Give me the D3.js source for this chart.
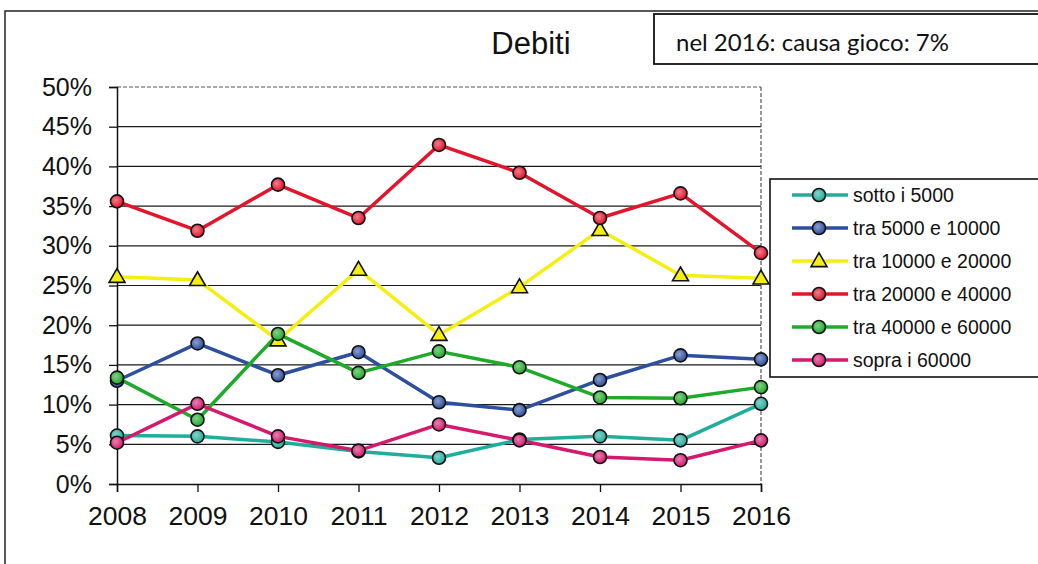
<!DOCTYPE html>
<html>
<head>
<meta charset="utf-8">
<script src="https://cdn.jsdelivr.net/npm/d3@7"></script>
<style>
  html,body{margin:0;padding:0;background:#fff;overflow:hidden;}
  svg{display:block;font-family:"Liberation Sans",Arial,sans-serif;}
</style>
</head>
<body>
<div id="chart"></div>
<script>
// data ---------------------------------------------------------------
var years=['2008','2009','2010','2011','2012','2013','2014','2015','2016'];
var yTicks=[0,5,10,15,20,25,30,35,40,45,50];
var seriesNames=['sotto i 5000','tra 5000 e 10000','tra 10000 e 20000',
                 'tra 20000 e 40000','tra 40000 e 60000','sopra i 60000'];
var sotto5000=[6.1,6.0,5.3,4.1,3.3,5.6,6.0,5.5,10.1];
var tra5000e10000=[13.0,17.7,13.7,16.6,10.3,9.3,13.1,16.2,15.7];
var tra10000e20000=[26.1,25.7,18.1,27.0,18.8,24.8,32.0,26.3,25.9];
var tra20000e40000=[35.6,31.9,37.7,33.5,42.7,39.2,33.5,36.6,29.1];
var tra40000e60000=[13.4,8.1,18.9,14.0,16.7,14.7,10.9,10.8,12.2];
var sopra60000=[5.2,10.1,6.0,4.2,7.5,5.5,3.4,3.0,5.5];
var title='Debiti';
var note='nel 2016: causa gioco: 7%';

var allValues=[sotto5000,tra5000e10000,tra10000e20000,tra20000e40000,tra40000e60000,sopra60000];
var colors=['#1fae9c','#2d4f9e','#f4ef10','#e3142b','#1faa2a','#d4196f'];
var shapes=['circle','circle','triangle','circle','circle','circle'];

var series=seriesNames.map(function(n,i){
    return {name:n,color:colors[i],shape:shapes[i],
        values:allValues[i].map(function(v,j){return {year:years[j],value:v};})};
});

//----------------------------------------------------------------
var width=1038,height=564;
var svg=d3.select('#chart').append('svg')
    .attr('width',width)
    .attr('height',height);

// glossy marker fills
var defs=svg.append('defs');
series.forEach(function(s,i){
    var g=defs.append('radialGradient')
        .attr('id','grad'+i)
        .attr('cx','40%').attr('cy','40%').attr('r','60%');
    g.append('stop').attr('offset','0%').attr('stop-color',d3.interpolateRgb(s.color,'#fff')(0.45));
    g.append('stop').attr('offset','100%').attr('stop-color',s.color);
});

// outer frame
svg.append('rect')
    .attr('x',5).attr('y',11)
    .attr('width',width+20).attr('height',height+20)
    .style('fill','none').style('stroke','#222').style('stroke-width',1.5);

var xScale=d3.scalePoint()
    .domain(years)
    .range([117,761]);

var yScale=d3.scaleLinear()
    .domain([0,50])
    .range([484,87]);

// grid ---------------------------------------------------------------
svg.append('g').selectAll('line').data(yTicks.filter(function(d){return d>0;}))
    .enter().append('line')
    .attr('x1',xScale.range()[0])
    .attr('x2',xScale.range()[1])
    .attr('y1',function(d){return yScale(d);})
    .attr('y2',function(d){return yScale(d);})
    .style('stroke',function(d){return d===50?'#555':'#1a1a1a';})
    .style('stroke-dasharray',function(d){return d===50?'4,2':null;})
    .style('stroke-width',1.2);

// right border of plot area
svg.append('line')
    .attr('x1',xScale.range()[1]).attr('x2',xScale.range()[1])
    .attr('y1',yScale(50)).attr('y2',yScale(0))
    .style('stroke','#555').style('stroke-dasharray','4,2').style('stroke-width',1.2);

// axes ---------------------------------------------------------------
var yAxis=d3.axisLeft(yScale)
    .tickValues(yTicks)
    .tickSize(8)
    .tickPadding(17)
    .tickFormat(function(d){return d+'%';});

var gy=svg.append('g')
    .attr('transform','translate('+xScale.range()[0]+',0)')
    .call(yAxis);
gy.select('.domain').style('stroke','#111').style('stroke-width',1.5);
gy.selectAll('.tick line').style('stroke','#111').style('stroke-width',1.3);
gy.selectAll('.tick text')
    .style('font-size','25px')
    .style('fill','#111')
    .style('font-family','"Liberation Sans",Arial,sans-serif');

var xAxis=d3.axisBottom(xScale)
    .tickSize(8)
    .tickPadding(14);

var gx=svg.append('g')
    .attr('transform','translate(0,'+yScale(0)+')')
    .call(xAxis);
gx.select('.domain').style('stroke','#111').style('stroke-width',1.5);
gx.selectAll('.tick line').style('stroke','#111').style('stroke-width',1.3);
gx.selectAll('.tick text')
    .style('font-size','26.5px')
    .style('fill','#111')
    .style('font-family','"Liberation Sans",Arial,sans-serif');

// lines --------------------------------------------------------------
var line=d3.line()
    .x(function(d){return xScale(d.year);})
    .y(function(d){return yScale(d.value);});

svg.append('g').selectAll('path').data(series)
    .enter().append('path')
    .attr('d',function(d){return line(d.values);})
    .style('fill','none')
    .style('stroke',function(d){return d.color;})
    .style('stroke-width',3.5)
    .style('stroke-linejoin','round');

// markers ------------------------------------------------------------
var triangle=d3.symbol().type(d3.symbolTriangle).size(110);

function drawMarker(sel,s,i){
    if(s.shape==='triangle'){
        sel.append('path')
            .attr('d',triangle)
            .attr('transform','translate(0,1)')
            .style('fill',s.color)
            .style('stroke','#111')
            .style('stroke-width',1.6);
    } else {
        sel.append('circle')
            .attr('r',6.5)
            .style('fill','url(#grad'+i+')')
            .style('stroke','#111')
            .style('stroke-width',1.6);
    }
}

series.forEach(function(s,i){
    svg.append('g').selectAll('g').data(s.values)
        .enter().append('g')
        .attr('transform',function(d){
            return 'translate('+xScale(d.year)+','+yScale(d.value)+')';
        })
        .each(function(){drawMarker(d3.select(this),s,i);});
});

// title and note -----------------------------------------------------
svg.append('text')
    .attr('x',531).attr('y',54)
    .attr('text-anchor','middle')
    .style('font-size','31px')
    .style('fill','#111')
    .text(title);

svg.append('rect')
    .attr('x',654).attr('y',14)
    .attr('width',420).attr('height',50)
    .style('fill','#fff').style('stroke','#111').style('stroke-width',1.8);

svg.append('text')
    .attr('x',676).attr('y',51)
    .style('font-family','Lato,"Open Sans",sans-serif')
    .style('font-size','24px')
    .style('fill','#111')
    .text(note);

// legend -------------------------------------------------------------
svg.append('rect')
    .attr('x',770).attr('y',179)
    .attr('width',300).attr('height',198)
    .style('fill','#fff').style('stroke','#111').style('stroke-width',1.6);

var legend=svg.append('g').selectAll('g').data(series)
    .enter().append('g')
    .attr('transform',function(d,i){return 'translate(0,'+(195+i*33)+')';});

legend.append('line')
    .attr('x1',792).attr('x2',848)
    .attr('y1',0).attr('y2',0)
    .style('stroke',function(d){return d.color;})
    .style('stroke-width',3.5);

legend.each(function(s,i){
    var g=d3.select(this).append('g').attr('transform','translate(819,0)');
    drawMarker(g,s,i);
});

legend.append('text')
    .attr('x',853).attr('y',0)
    .attr('dy','0.35em')
    .style('font-size','19.5px')
    .style('fill','#111')
    .text(function(d){return d.name;});
</script>
</body>
</html>
